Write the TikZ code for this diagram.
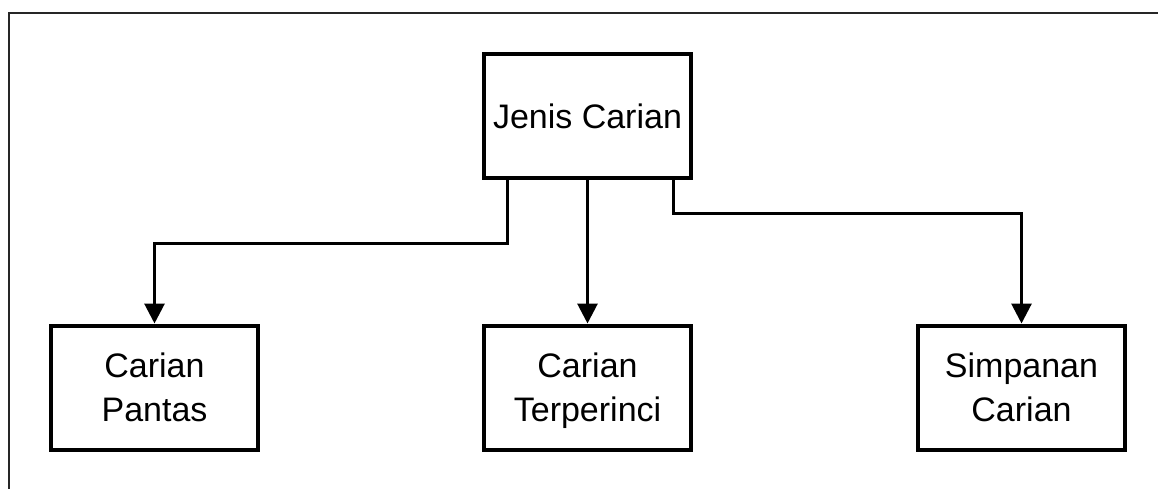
\documentclass[tikz,border=0pt]{standalone}
\usepackage{fontspec}
\setmainfont{Liberation Sans}
\usetikzlibrary{arrows.meta, positioning}

\begin{document}
\begin{tikzpicture}[x=1pt, y=1pt,
		kotak/.style={draw, line width=4pt, minimum width=207pt, minimum height=124pt, inner sep=0pt, text depth=0pt, align=center, font=\fontsize{34}{44}\selectfont},
		panah/.style={line width=3pt, -{Triangle[width=20pt, length=20pt]}}]
			\useasboundingbox (0,0) rectangle (1158,488);
			\draw[line width=2pt, black!85] (9,475) rectangle (1164,-6);
			\node[kotak] (jenis) at (587.5,372) {Jenis Carian};
			\node[kotak] (pantas) at (154.5,100.5) {Carian\\Pantas};
			\node[kotak] (terperinci) at (587.5,100.5) {Carian\\Terperinci};
			\node[kotak] (simpanan) at (1021.5,100.5) {Simpanan\\Carian};
			\draw[panah] ([xshift=25pt]jenis.south west) -- ++(0,-63) -| (pantas.north);
			\draw[panah] (jenis.south) -- (terperinci.north);
			\draw[panah] ([xshift=-20pt]jenis.south east) -- ++(0,-33) -| (simpanan.north);
		\end{tikzpicture}
\end{document}
